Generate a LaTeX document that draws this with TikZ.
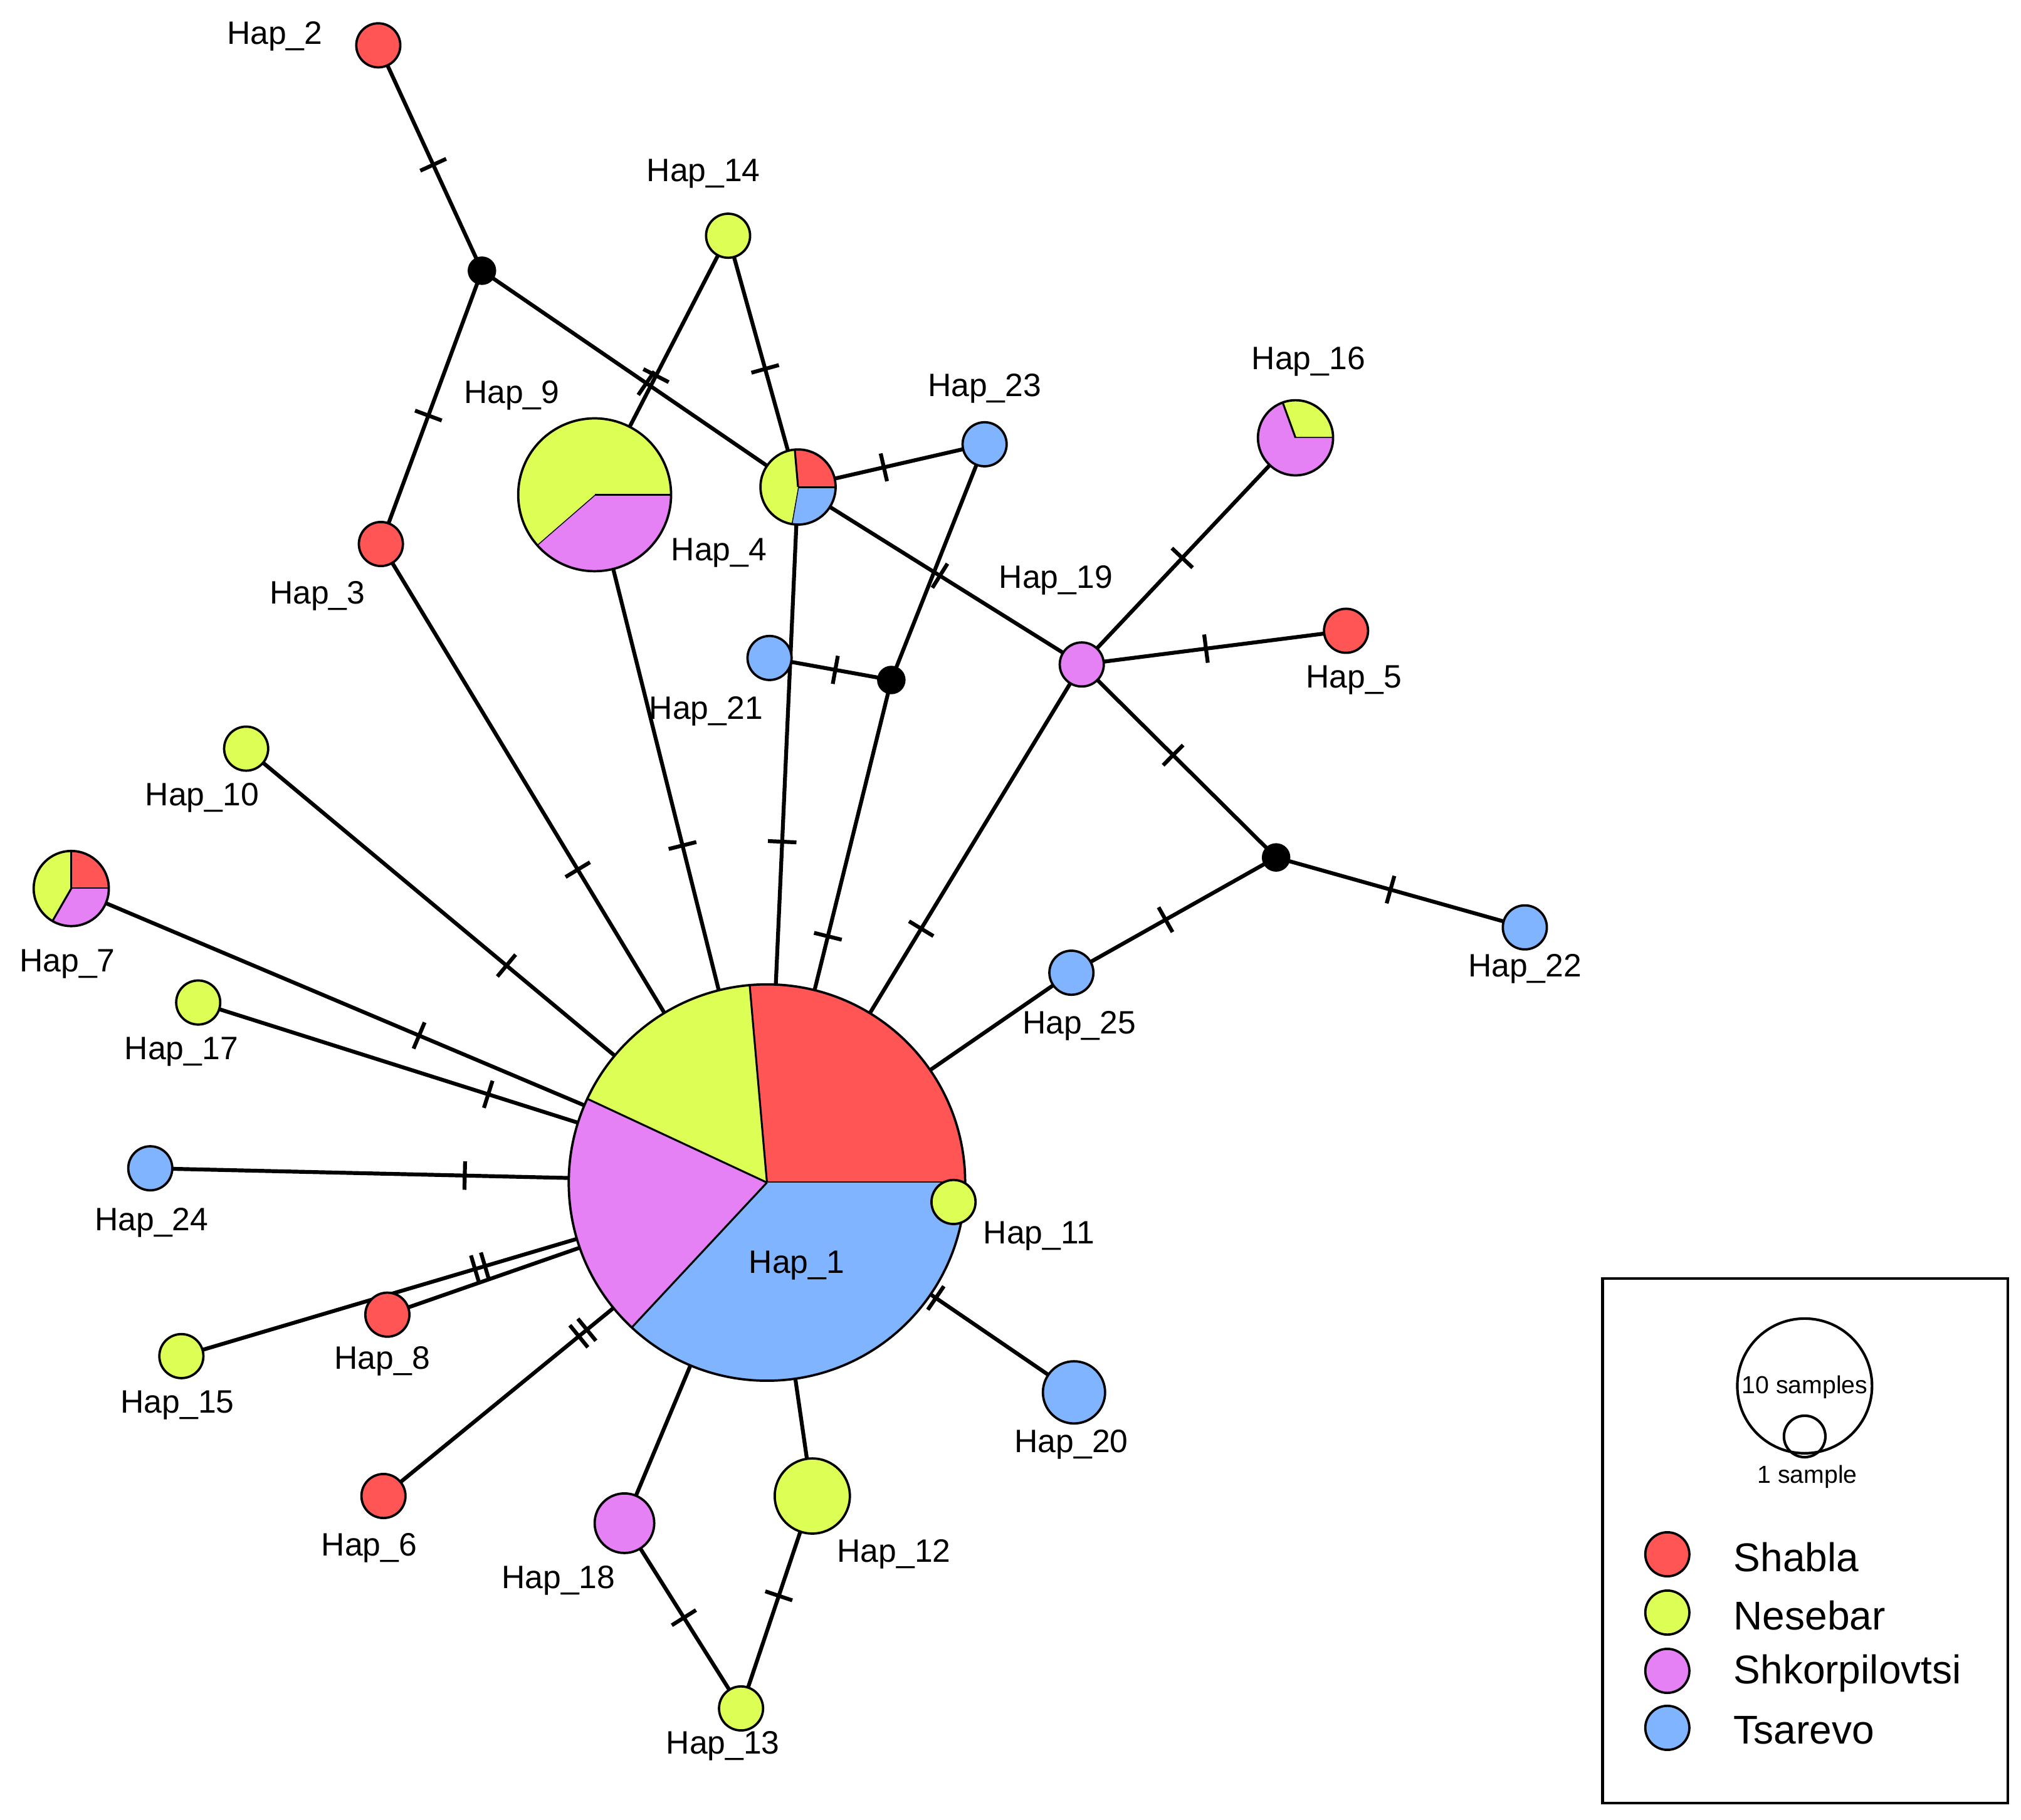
\documentclass[tikz,border=0pt]{standalone}
\usepackage{fontspec}
\setmainfont{Liberation Sans}
\usetikzlibrary{decorations.markings}
\definecolor{cR}{HTML}{FF5555}
\definecolor{cG}{HTML}{DDFF55}
\definecolor{cM}{HTML}{E580F5}
\definecolor{cB}{HTML}{80B4FF}
\newcommand\myslice[5]{\fill[#5] (#1) -- ++(#3:#2) arc[start angle=#3,end angle=#4,radius=#2] -- cycle;
  \draw[line width=1.5pt] (#1) -- ++(#3:#2);}
\newcommand\myring[2]{\draw[line width=1.8pt] (#1) circle[radius=#2];}
\newcommand\mydot[3]{\fill[#3] (#1) circle[radius=#2];\draw[line width=1.8pt] (#1) circle[radius=#2];}
\begin{document}
\begin{tikzpicture}[x=1pt,y=1pt,
  edge/.style={line width=3pt},
  tk/.style={postaction={decorate,decoration={markings,mark=at position #1 with {\draw[line width=3pt] (0,-11) -- (0,11);}}}},
  tkk/.style={postaction={decorate,decoration={markings,mark=at position #1 with {\draw[line width=3pt] (-4,-11) -- (-4,11) (4,-11) -- (4,11);}}}},
  lab/.style={font=\fontsize{25}{30}\selectfont,inner sep=0pt},
  leg/.style={font=\fontsize{31}{36}\selectfont,inner sep=0pt,anchor=west}]
\useasboundingbox (0,0) rectangle (1560,-1405);
\fill[white] (0,0) rectangle (1560,-1405);
% coordinates
\coordinate (h1) at (592,-913);
\coordinate (h2) at (292,-35);
\coordinate (m1) at (372,-209);
\coordinate (h14) at (562,-182);
\coordinate (h3) at (294,-420);
\coordinate (h9) at (459,-382);
\coordinate (h4) at (616,-376);
\coordinate (h23) at (760,-343);
\coordinate (h21) at (594,-508);
\coordinate (m2) at (688,-525);
\coordinate (h19) at (835,-513);
\coordinate (h16) at (1000,-338);
\coordinate (h5) at (1039,-487);
\coordinate (m3) at (985,-662);
\coordinate (h22) at (1177,-716);
\coordinate (h25) at (827,-751);
\coordinate (h10) at (190,-578);
\coordinate (h7) at (55,-686);
\coordinate (h17) at (153,-774);
\coordinate (h24) at (116,-902);
\coordinate (h11) at (736,-928);
\coordinate (h8) at (299,-1015);
\coordinate (h15) at (140,-1047);
\coordinate (h6) at (296,-1155);
\coordinate (h18) at (482,-1176);
\coordinate (h12) at (627,-1155);
\coordinate (h13) at (572,-1319);
\coordinate (h20) at (829,-1075);
% edges
\draw[edge,tk=0.53] (h2) -- (m1);
\draw[edge,tk=0.53] (m1) -- (h3);
\draw[edge,tk=0.52] (m1) -- (h4);
\draw[edge,tk=0.46] (h9) -- (h14);
\draw[edge,tk=0.53] (h14) -- (h4);
\draw[edge,tk=0.46] (h4) -- (h23);
\draw[edge,tk=0.5] (h4) -- (h19);
\draw[edge] (h23) -- (m2);
\draw[edge,tk=0.54] (h21) -- (m2);
\draw[edge,tk=0.51] (m2) -- (h1);
\draw[edge,tk=0.51] (h4) -- (h1);
\draw[edge,tk=0.51] (h9) -- (h1);
\draw[edge,tk=0.51] (h3) -- (h1);
\draw[edge,tk=0.51] (h19) -- (h1);
\draw[edge,tk=0.47] (h19) -- (h16);
\draw[edge,tk=0.47] (h19) -- (h5);
\draw[edge,tk=0.47] (h19) -- (m3);
\draw[edge,tk=0.46] (m3) -- (h22);
\draw[edge,tk=0.54] (m3) -- (h25);
\draw[edge] (h25) -- (h1);
\draw[edge,tk=0.5] (h10) -- (h1);
\draw[edge,tk=0.5] (h7) -- (h1);
\draw[edge,tk=0.51] (h17) -- (h1);
\draw[edge,tk=0.51] (h24) -- (h1);
\draw[edge,tkk=0.51] (h15) -- (h1);
\draw[edge] (h8) -- (h1);
\draw[edge,tkk=0.52] (h6) -- (h1);
\draw[edge,tk=0.45] (h20) -- (h1);
\draw[edge] (h18) -- (h1);
\draw[edge] (h12) -- (h1);
\draw[edge,tk=0.51] (h18) -- (h13);
\draw[edge,tk=0.47] (h12) -- (h13);
% pies
\myslice{h1}{153}{0}{95}{cR}\myslice{h1}{153}{95}{155}{cG}\myslice{h1}{153}{155}{227}{cM}\myslice{h1}{153}{227}{360}{cB}\myring{h1}{153}
\myslice{h9}{59}{-139}{0}{cM}\myslice{h9}{59}{0}{221}{cG}\myring{h9}{59}
\myslice{h4}{29}{-100}{0}{cB}\myslice{h4}{29}{0}{95}{cR}\myslice{h4}{29}{95}{260}{cG}\myring{h4}{29}
\myslice{h16}{29}{0}{110}{cG}\myslice{h16}{29}{110}{360}{cM}\myring{h16}{29}
\myslice{h7}{29}{0}{90}{cR}\myslice{h7}{29}{90}{240}{cG}\myslice{h7}{29}{240}{360}{cM}\myring{h7}{29}
% small nodes
\mydot{h2}{17}{cR}\mydot{h14}{17}{cG}\mydot{h3}{17}{cR}\mydot{h23}{17}{cB}
\mydot{h21}{17}{cB}\mydot{h19}{17}{cM}\mydot{h5}{17}{cR}\mydot{h22}{17}{cB}
\mydot{h25}{17}{cB}\mydot{h10}{17}{cG}\mydot{h17}{17}{cG}\mydot{h24}{17}{cB}
\mydot{h11}{17}{cG}\mydot{h8}{17}{cR}\mydot{h15}{17}{cG}\mydot{h6}{17}{cR}
\mydot{h18}{23}{cM}\mydot{h12}{29}{cG}\mydot{h13}{17}{cG}\mydot{h20}{24}{cB}
\fill (m1) circle[radius=11];\fill (m2) circle[radius=11];\fill (m3) circle[radius=11];
% labels
\node[lab] (l1) at (615,-977) {Hap\_1};
\node[lab] (l2) at (212,-28) {Hap\_2};
\node[lab] (l3) at (245,-460) {Hap\_3};
\node[lab] (l4) at (555,-427) {Hap\_4};
\node[lab] (l5) at (1045,-525) {Hap\_5};
\node[lab] (l6) at (285,-1195) {Hap\_6};
\node[lab] (l7) at (52,-744) {Hap\_7};
\node[lab] (l8) at (295,-1051) {Hap\_8};
\node[lab] (l9) at (395,-305) {Hap\_9};
\node[lab] (l10) at (156,-616) {Hap\_10};
\node[lab] (l11) at (802,-954) {Hap\_11};
\node[lab] (l12) at (690,-1200) {Hap\_12};
\node[lab] (l13) at (558,-1348) {Hap\_13};
\node[lab] (l14) at (543,-134) {Hap\_14};
\node[lab] (l15) at (137,-1085) {Hap\_15};
\node[lab] (l16) at (1010,-279) {Hap\_16};
\node[lab] (l17) at (140,-812) {Hap\_17};
\node[lab] (l18) at (431,-1220) {Hap\_18};
\node[lab] (l19) at (815,-448) {Hap\_19};
\node[lab] (l20) at (827,-1115) {Hap\_20};
\node[lab] (l21) at (545,-549) {Hap\_21};
\node[lab] (l22) at (1177,-748) {Hap\_22};
\node[lab] (l23) at (760,-300) {Hap\_23};
\node[lab] (l24) at (117,-944) {Hap\_24};
\node[lab] (l25) at (833,-792) {Hap\_25};
% legend
\draw[line width=2pt] (1237,-987) rectangle (1550,-1392);
\draw[line width=2pt] (1393,-1070) circle[radius=52];
\draw[line width=2pt] (1393,-1109) circle[radius=16];
\node[font=\fontsize{19}{22}\selectfont,inner sep=0pt] (t10) at (1393,-1071) {10 samples};
\node[font=\fontsize{19}{22}\selectfont,inner sep=0pt] (t1) at (1395,-1140) {1 sample};
\mydot{1287,-1200}{17}{cR}\mydot{1287,-1245}{17}{cG}\mydot{1287,-1290}{17}{cM}\mydot{1287,-1334}{17}{cB}
\node[leg] (s1) at (1338,-1202) {Shabla};
\node[leg] (s2) at (1338,-1247) {Nesebar};
\node[leg] (s3) at (1338,-1292) {Shkorpilovtsi};
\node[leg] (s4) at (1338,-1336) {Tsarevo};
\end{tikzpicture}
\end{document}
